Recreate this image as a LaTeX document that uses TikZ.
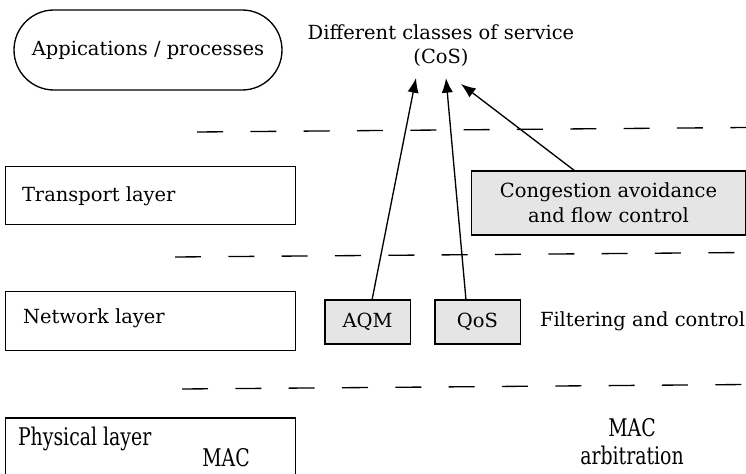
\documentclass[tikz,border=0pt]{standalone}
\usepackage{fontspec}
\usepackage{graphicx}
\setmainfont{DejaVu Serif}
\usetikzlibrary{shapes.misc,arrows.meta}
\newcommand{\tallt}[1]{\scalebox{0.97}[1.25]{#1}}
\tikzset{
  x=0.75pt,y=-0.75pt,
  every node/.style={inner sep=0pt,outer sep=0pt},
  txt/.style={font=\fontsize{14.6}{18}\selectfont},
  layerbox/.style={draw,line width=0.9pt,minimum width=218pt,minimum height=44pt},
  graybox/.style={draw,line width=1pt,fill=black!10},
  sep/.style={line width=1pt,dash pattern=on 19.5pt off 20.5pt},
  arr/.style={line width=1pt,-{Latex[length=11pt,width=8.5pt]}}
}
\begin{document}
\begin{tikzpicture}
\useasboundingbox (0,0) rectangle (746,474);
% applications
\node[draw,rounded rectangle,line width=1pt,minimum width=201pt,minimum height=60pt,txt] (app) at (148,50) {Appications / processes};
\node[txt] (cos1) at (441,32) {Different classes of service};
\node[txt] (cos2) at (441,58) {(CoS)};
% separators
\coordinate (s1a) at (197,132);
\coordinate (s1b) at (746,127.5);
\coordinate (s2a) at (175,257);
\coordinate (s2b) at (746,252.5);
\coordinate (s3a) at (182,389);
\coordinate (s3b) at (746,384.5);
\draw[sep] (s1a) -- (s1b);
\draw[sep] (s2a) -- (s2b);
\draw[sep] (s3a) -- (s3b);
% layers
\node[layerbox] (transport) at (150.5,195.5) {};
\node[txt,anchor=west] (transportlbl) at (22,196) {Transport layer};
\node[layerbox] (network) at (150.5,321) {};
\node[txt,anchor=west] (networklbl) at (23,318) {Network layer};
\node[layerbox,minimum height=48pt] (physical) at (150.5,450) {};
\node[txt,anchor=west] (physlbl) at (18,439) {\tallt{Physical layer}};
\node[txt] (maclbl) at (226,458) {\tallt{MAC}};
% right side
\node[graybox,minimum width=206pt,minimum height=48pt,align=center,txt] (cong) at (608.5,203) {Congestion avoidance\\[1pt]and flow control};
\node[graybox,minimum width=64pt,minimum height=33pt,txt] (aqm) at (367.5,322) {AQM};
\node[graybox,minimum width=64pt,minimum height=33pt,txt] (qos) at (477.5,322) {QoS};
\node[txt,anchor=west] (filt) at (540,321) {Filtering and control};
\node[txt] (macarb1) at (632,428) {\tallt{MAC}};
\node[txt] (macarb2) at (632,455) {\tallt{arbitration}};
% arrows
\coordinate (t1) at (416,78);
\coordinate (t2) at (446,78);
\coordinate (t3) at (461,84);
\draw[arr] (aqm.north) ++(4.5,0) -- (t1);
\draw[arr] (qos.north) ++(-11.5,0) -- (t2);
\draw[arr] (cong.north) ++(-33.5,0) -- (t3);
\end{tikzpicture}
\end{document}
